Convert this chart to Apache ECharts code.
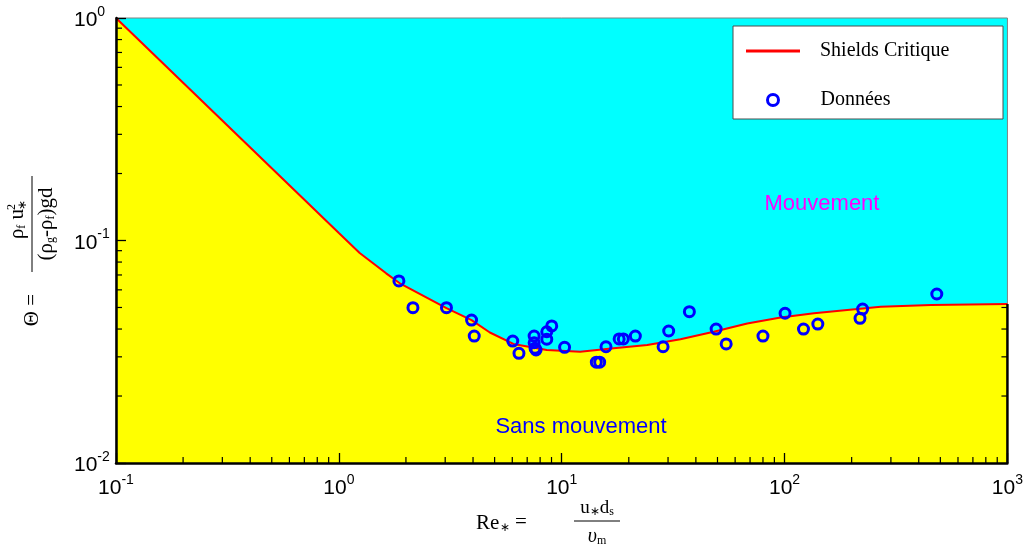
<!DOCTYPE html>
<html><head><meta charset="utf-8">
<script src="https://cdn.jsdelivr.net/npm/echarts@6/dist/echarts.min.js"></script>
<style>html,body{margin:0;padding:0;background:#fff}#c{width:1026px;height:555px}</style>
</head><body><div id="c"></div>
<script>
// ---- data ----
const curveRe    = [0.1, 1.0, 1.24, 1.63, 1.87, 3.04, 3.94, 4.76, 6.07, 8.57, 12.1, 17.1, 24.2, 34.1, 48.1, 68.0, 96.0, 135.5, 191, 270, 454, 1000];
const curveTheta = [1.0, 0.108, 0.0879, 0.0712, 0.0644, 0.0497, 0.0439, 0.0386, 0.0343, 0.0322, 0.0316, 0.0328, 0.0339, 0.0360, 0.0389, 0.0424, 0.0451, 0.0471, 0.0487, 0.0504, 0.0513, 0.0518];
const dataRe    = [1.86, 2.15, 3.04, 3.94, 4.05, 6.03, 6.43, 7.52, 7.52, 7.59, 7.67, 8.57, 9.02, 8.57, 10.3, 14.3, 14.8, 15.8, 18.1, 18.9, 21.4, 28.5, 30.2, 37.4, 49.3, 54.7, 80.0, 100.5, 121.6, 141, 218, 224, 482];
const dataTheta = [0.0658, 0.0499, 0.0499, 0.0439, 0.0372, 0.0353, 0.0311, 0.0372, 0.0347, 0.0328, 0.0322, 0.0389, 0.0413, 0.0360, 0.0331, 0.0284, 0.0284, 0.0333, 0.0361, 0.0361, 0.0372, 0.0333, 0.0392, 0.0479, 0.0400, 0.0343, 0.0372, 0.0471, 0.0400, 0.0421, 0.0447, 0.0492, 0.0575];
const xRange = [0.1, 1000];
const yRange = [0.01, 1];
const xMinorTicks = [0.2,0.3,0.4,0.5,0.6,0.7,0.8,0.9, 2,3,4,5,6,7,8,9, 20,30,40,50,60,70,80,90, 200,300,400,500,600,700,800,900];
const yMinorTicks = [0.02,0.03,0.04,0.05,0.06,0.07,0.08,0.09, 0.2,0.3,0.4,0.5,0.6,0.7,0.8,0.9];
const seriesNames = ['Shields Critique', 'Données'];
const regionLabels = ['Mouvement', 'Sans mouvement'];

// ---- chart ----
const chart = echarts.init(document.getElementById('c'), null, {renderer: 'canvas'});
const SANS = '"Liberation Sans", Arial, Helvetica, sans-serif';
const SERIF = '"Liberation Serif", "Times New Roman", serif';
const expLabel = v => { const e = Math.round(Math.log10(v)); return '{b|10}{e|' + e + '}'; };
const labelRich = {
  b: {fontSize: 21, fontFamily: SANS, color: '#000', lineHeight: 26, verticalAlign: 'bottom'},
  e: {fontSize: 14, fontFamily: SANS, color: '#000', lineHeight: 14, verticalAlign: 'top'}
};
const curveEnd = curveTheta[curveTheta.length - 1];
const rightTicks = yMinorTicks.filter(v => v < curveEnd);

const tickStyle = {stroke: '#000', lineWidth: 1.2};

chart.setOption({
  animation: false,
  grid: {left: 116, right: 18, top: 18, bottom: 92, show: true, backgroundColor: '#00ffff', borderColor: '#808080', borderWidth: 1},
  xAxis: {
    type: 'log', logBase: 10, min: xRange[0], max: xRange[1], z: 3,
    axisLine: {show: true, lineStyle: {color: '#000', width: 2.5}},
    axisTick: {show: true, inside: true, length: 10, lineStyle: {color: '#000', width: 1.3}},
    splitLine: {show: false}, minorTick: {show: false},
    axisLabel: {formatter: expLabel, rich: labelRich, margin: 10}
  },
  yAxis: {
    type: 'log', logBase: 10, min: yRange[0], max: yRange[1], z: 3,
    axisLine: {show: true, lineStyle: {color: '#000', width: 2.5}},
    axisTick: {show: true, inside: true, length: 10, lineStyle: {color: '#000', width: 1.3}},
    splitLine: {show: false}, minorTick: {show: false},
    axisLabel: {formatter: expLabel, rich: labelRich, align: 'left', margin: 42}
  },
  legend: [
    {data: [{name: seriesNames[0], icon: 'rect', itemStyle: {color: '#ff0000'}}],
     left: 746, top: 41, padding: 0, itemWidth: 54, itemHeight: 3, z: 20,
     textStyle: {fontFamily: SERIF, fontSize: 20, color: '#000', padding: [0, 0, 0, 15]}},
    {data: [{name: seriesNames[1], icon: 'circle', itemStyle: {color: 'rgba(0,0,0,0)', borderColor: '#0000ff', borderWidth: 3}}],
     left: 766, top: 90, padding: 0, itemWidth: 11, itemHeight: 11, z: 20,
     textStyle: {fontFamily: SERIF, fontSize: 20, color: '#000', padding: [0, 0, 0, 37]}}
  ],
  series: [
    {
      name: seriesNames[0], type: 'line', z: 2,
      data: curveRe.map((x, i) => [x, curveTheta[i]]),
      showSymbol: false, symbol: 'none', smooth: false,
      itemStyle: {color: '#ff0000'},
      lineStyle: {color: '#ff0000', width: 2},
      areaStyle: {color: '#ffff00', opacity: 1, origin: 'start'}
    },
    {
      name: 'xminor', type: 'custom', z: 4, silent: true,
      data: xMinorTicks.map(v => [v, yRange[0]]),
      renderItem: (params, api) => {
        const p = api.coord([api.value(0), api.value(1)]);
        return {type: 'line', shape: {x1: p[0], y1: p[1], x2: p[0], y2: p[1] - 6}, style: tickStyle};
      }
    },
    {
      name: 'yminor', type: 'custom', z: 4, silent: true,
      data: yMinorTicks.map(v => [xRange[0], v]),
      renderItem: (params, api) => {
        const p = api.coord([api.value(0), api.value(1)]);
        return {type: 'line', shape: {x1: p[0], y1: p[1], x2: p[0] + 6, y2: p[1]}, style: tickStyle};
      }
    },
    {
      name: 'rightminor', type: 'custom', z: 4, silent: true,
      data: rightTicks.map(v => [xRange[1], v]),
      renderItem: (params, api) => {
        const p = api.coord([api.value(0), api.value(1)]);
        return {type: 'line', shape: {x1: p[0], y1: p[1], x2: p[0] - 6, y2: p[1]}, style: tickStyle};
      }
    },
    {
      name: 'rightedge', type: 'custom', z: 4, silent: true,
      data: [[xRange[1], yRange[0], curveEnd]],
      renderItem: (params, api) => {
        const a = api.coord([api.value(0), api.value(1)]);
        const b = api.coord([api.value(0), api.value(2)]);
        return {type: 'line', shape: {x1: a[0], y1: a[1], x2: b[0], y2: b[1]}, style: {stroke: '#000', lineWidth: 2.5}};
      }
    },
    {
      name: seriesNames[1], type: 'scatter', z: 5,
      data: dataRe.map((x, i) => [x, dataTheta[i]]),
      symbol: 'circle', symbolSize: 10,
      itemStyle: {color: 'rgba(0,0,0,0)', borderColor: '#0000ff', borderWidth: 3, opacity: 1}
    }
  ],
  graphic: [
    {type: 'rect', z: 10, shape: {x: 733, y: 26, width: 270, height: 93}, style: {fill: '#fff', stroke: '#4d4d4d', lineWidth: 1}},
    {type: 'text', z: 10, x: 822, y: 204, style: {text: regionLabels[0], font: '22px ' + SANS, fill: '#ff00ff', align: 'center', verticalAlign: 'middle'}},
    {type: 'text', z: 10, x: 581, y: 427, style: {text: regionLabels[1], font: '22px ' + SANS, fill: '#0000ff', align: 'center', verticalAlign: 'middle'}},
    // x-axis title
    {type: 'group', z: 10, children: [
      {type: 'text', x: 476, y: 523, style: {text: 'Re', font: '21px ' + SERIF, fill: '#000', align: 'left', verticalAlign: 'middle'}},
      {type: 'text', x: 500, y: 528, style: {text: '∗', font: '12px ' + SERIF, fill: '#000', align: 'left', verticalAlign: 'middle'}},
      {type: 'text', x: 515, y: 522, style: {text: '=', font: '21px ' + SERIF, fill: '#000', align: 'left', verticalAlign: 'middle'}},
      {type: 'text', x: 597, y: 518, style: {text: '{a|u}{s|∗}{a|d}{s|s}', align: 'center', verticalAlign: 'bottom',
        rich: {a: {font: '19px ' + SERIF, fill: '#000', lineHeight: 20, verticalAlign: 'bottom'}, s: {font: '12px ' + SERIF, fill: '#000', lineHeight: 12, verticalAlign: 'bottom'}}}},
      {type: 'line', shape: {x1: 574, y1: 521, x2: 620, y2: 521}, style: {stroke: '#000', lineWidth: 1}},
      {type: 'text', x: 597, y: 525, style: {text: '{a|υ}{s|m}', align: 'center', verticalAlign: 'top',
        rich: {a: {font: 'italic 20px ' + SERIF, fill: '#000', lineHeight: 22, verticalAlign: 'bottom'}, s: {font: '12px ' + SERIF, fill: '#000', lineHeight: 12, verticalAlign: 'bottom'}}}}
    ]},
    // y-axis title
    {type: 'group', z: 10, x: 32, y: 224, rotation: Math.PI / 2, children: [
      {type: 'text', x: -70, y: 0, style: {text: 'Θ =', font: '21px ' + SERIF, fill: '#000', align: 'right', verticalAlign: 'middle'}},
      {type: 'text', x: 0, y: -4, style: {text: '{a|ρ}{s|f}{a| u}', align: 'center', verticalAlign: 'bottom',
        rich: {a: {font: '21px ' + SERIF, fill: '#000', lineHeight: 20, verticalAlign: 'bottom'}, s: {font: '12px ' + SERIF, fill: '#000', lineHeight: 12, verticalAlign: 'bottom'}}}},
      {type: 'text', x: 14, y: -14, style: {text: '2', font: '12px ' + SERIF, fill: '#000', align: 'left', verticalAlign: 'bottom'}},
      {type: 'text', x: 14, y: -3, style: {text: '∗', font: '12px ' + SERIF, fill: '#000', align: 'left', verticalAlign: 'bottom'}},
      {type: 'line', shape: {x1: -48, y1: 0, x2: 48, y2: 0}, style: {stroke: '#000', lineWidth: 1}},
      {type: 'text', x: 0, y: 3, style: {text: '{a|(ρ}{s|g}{a|-ρ}{s|f}{a|)gd}', align: 'center', verticalAlign: 'top',
        rich: {a: {font: '21px ' + SERIF, fill: '#000', lineHeight: 22, verticalAlign: 'bottom'}, s: {font: '12px ' + SERIF, fill: '#000', lineHeight: 12, verticalAlign: 'bottom'}}}}
    ]}
  ]
});
</script></body></html>
